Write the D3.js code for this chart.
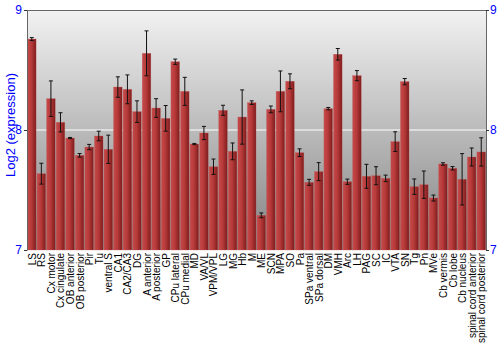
<!DOCTYPE html>
<html lang="en">
  <head>
    <meta charset="utf-8">
    <title>Expression by region</title>
    <script src="https://d3js.org/d3.v7.min.js"></script>
    <style>
      body { margin: 0; background: #fff; }
      text { font-family: "Liberation Sans", Arial, sans-serif; }
    </style>
  </head>
  <body>
  <div id="chart"></div>
  <script>

  // data
  var regions = ["LS", "RS", "Cx motor", "Cx cingulate", "OB anterior", "OB posterior", "Pir", "Tu",
    "ventral S", "CA1", "CA2/CA3", "DG", "A anterior", "A posterior", "GP", "CPu lateral",
    "CPu medial", "MD", "VA/VL", "VPM/VPL", "LG", "MG", "Hb", "M", "ME", "SCN", "MPA", "SO",
    "Pa", "SPa ventral", "SPa dorsal", "DM", "VMH", "Arc", "LH", "PAG", "SC", "IC", "VTA", "SN",
    "Tg", "Pn", "MVe", "Cb vermis", "Cb lobe", "Cb nucleus", "spinal cord anterior", "spinal cord posterior"];

  var expression = [8.758, 7.636, 8.261, 8.064, 7.933, 7.789, 7.858, 7.95,
    7.839, 8.358, 8.339, 8.153, 8.639, 8.183, 8.097, 8.569,
    8.322, 7.883, 7.975, 7.694, 8.164, 7.822, 8.108, 8.228, 7.289, 8.172, 8.322, 8.406,
    7.811, 7.564, 7.653, 8.178, 8.631, 7.569, 8.453, 7.614, 7.619, 7.597, 7.903, 8.403,
    7.528, 7.544, 7.433, 7.717, 7.681, 7.589, 7.775, 7.817];

  var errors = [0.012, 0.087, 0.148, 0.08, 0.005, 0.015, 0.022, 0.04,
    0.118, 0.085, 0.12, 0.09, 0.187, 0.078, 0.107, 0.022,
    0.117, 0.005, 0.055, 0.064, 0.042, 0.07, 0.226, 0.015, 0.02, 0.028, 0.17, 0.062,
    0.032, 0.025, 0.075, 0.01, 0.048, 0.022, 0.042, 0.1, 0.075, 0.027, 0.082, 0.026,
    0.064, 0.114, 0.025, 0.01, 0.014, 0.214, 0.075, 0.118];

  var yTicks = [7, 8, 9];

  var w = 500;
  var h = 350;
  var margin = {top: 10, right: 14, bottom: 100, left: 27};
  var innerWidth = w - margin.left - margin.right;
  var innerHeight = h - margin.top - margin.bottom;

  var svg = d3.select("#chart")
    .append("svg")
    .attr("width", w)
    .attr("height", h);

  var defs = svg.append("defs");

  var bg = defs.append("linearGradient")
    .attr("id", "bg").attr("x1", 0).attr("y1", 0).attr("x2", 0).attr("y2", 1);
  bg.append("stop").attr("offset", "0%").attr("stop-color", "#f2f2f2");
  bg.append("stop").attr("offset", "100%").attr("stop-color", "#838383");

  var barGrad = defs.append("linearGradient")
    .attr("id", "bar").attr("x1", 0).attr("y1", 0).attr("x2", 1).attr("y2", 0);
  barGrad.append("stop").attr("offset", "0%").attr("stop-color", "#c44a4a");
  barGrad.append("stop").attr("offset", "45%").attr("stop-color", "#b83a3a");
  barGrad.append("stop").attr("offset", "100%").attr("stop-color", "#7e1c1c");

  var xScale = d3.scaleBand()
    .domain(regions)
    .range([margin.left, margin.left + innerWidth])
    .paddingInner(0.1)
    .paddingOuter(0.05);

  var yScale = d3.scaleLinear()
    .domain([7, 9])
    .range([margin.top + innerHeight, margin.top]);

  var cx = d => xScale(d) + xScale.bandwidth() / 2;

  svg.append("rect")
    .attr("x", margin.left)
    .attr("y", margin.top)
    .attr("width", innerWidth)
    .attr("height", innerHeight)
    .attr("fill", "url(#bg)");

  // white grid line at 8
  svg.append("line")
    .attr("x1", margin.left).attr("x2", margin.left + innerWidth)
    .attr("y1", yScale(8)).attr("y2", yScale(8))
    .attr("stroke", "#fff")
    .attr("stroke-width", 1);

  svg.selectAll(".bar")
    .data(regions)
    .enter().append("rect")
    .attr("class", "bar")
    .attr("x", d => xScale(d))
    .attr("width", xScale.bandwidth())
    .attr("y", (d, i) => yScale(expression[i]))
    .attr("height", (d, i) => yScale(7) - yScale(expression[i]))
    .attr("fill", "url(#bar)")
    .attr("stroke", "#c65a5a")
    .attr("stroke-width", 0.5)
    .attr("stroke-opacity", 0.6);

  // error bars
  var eb = svg.selectAll(".err")
    .data(regions)
    .enter().append("g")
    .attr("class", "err")
    .attr("stroke", "#111")
    .attr("stroke-width", 1);
  eb.append("line")
    .attr("x1", cx).attr("x2", cx)
    .attr("y1", (d, i) => yScale(expression[i] - errors[i]))
    .attr("y2", (d, i) => yScale(expression[i] + errors[i]));
  eb.append("line")
    .attr("x1", d => cx(d) - 2).attr("x2", d => cx(d) + 2)
    .attr("y1", (d, i) => yScale(expression[i] + errors[i]))
    .attr("y2", (d, i) => yScale(expression[i] + errors[i]));
  eb.append("line")
    .attr("x1", d => cx(d) - 2).attr("x2", d => cx(d) + 2)
    .attr("y1", (d, i) => yScale(expression[i] - errors[i]))
    .attr("y2", (d, i) => yScale(expression[i] - errors[i]));

  // top border
  svg.append("line")
    .attr("x1", margin.left).attr("x2", margin.left + innerWidth)
    .attr("y1", margin.top + 0.5).attr("y2", margin.top + 0.5)
    .attr("stroke", "#666");

  var yAxisL = d3.axisLeft(yScale).tickValues(yTicks).tickSize(3).tickSizeOuter(0).tickFormat(d3.format("d"));
  var yAxisR = d3.axisRight(yScale).tickValues(yTicks).tickSize(3).tickSizeOuter(0).tickFormat(d3.format("d"));

  var la = svg.append("g").attr("transform", `translate(${margin.left}, 0)`).call(yAxisL);
  var ra = svg.append("g").attr("transform", `translate(${margin.left + innerWidth}, 0)`).call(yAxisR);
  [la, ra].forEach(function (a) {
    a.select(".domain").attr("stroke", "#666");
    a.selectAll(".tick line").attr("stroke", "#333");
    a.selectAll(".tick text")
      .attr("fill", "#0000ff")
      .attr("font-size", 12)
      .attr("font-family", "Liberation Sans, Arial, sans-serif");
  });
  la.selectAll(".tick text").attr("x", -5);
  ra.selectAll(".tick text").attr("x", 4);

  // category labels
  var labY = yScale(7) + 3;
  svg.selectAll(".lab")
    .data(regions)
    .enter().append("text")
    .attr("class", "lab")
    .attr("x", d => cx(d) + 4)
    .attr("y", labY)
    .attr("transform", d => `rotate(-90, ${cx(d) + 4}, ${labY})`)
    .attr("text-anchor", "end")
    .attr("font-size", 10)
    .attr("fill", "#000")
    .text(d => d);

  svg.append("text")
    .attr("x", 10).attr("y", 125)
    .attr("transform", "rotate(-90, 10, 125)")
    .attr("text-anchor", "middle")
    .attr("dominant-baseline", "central")
    .attr("fill", "#0000ff")
    .attr("font-size", 13)
    .text("Log2 (expression)");

  </script>
  </body>
</html>
